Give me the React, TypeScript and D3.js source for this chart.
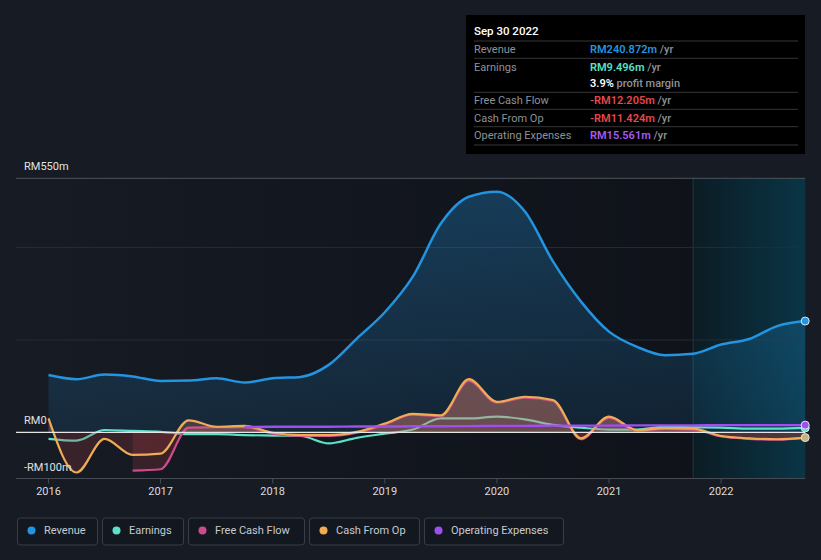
import * as d3 from 'd3';

// quarterly points, 2016 Q1 .. 2022 Q3 (trailing twelve months, RM m)
const quarters = d3.range(0, 28).map((i) => 2016 + i * 0.25);
const revenue = [124, 115, 125, 121, 111, 112, 117, 108, 117, 120, 146, 203, 260, 337, 452, 510, 521, 478, 370, 283, 218, 185, 167, 170, 190, 202, 230, 240.872];
const earnings = [-14, -18, 5, 3, 1, -4, -4, -6, -7, -8, -24, -12, -3, 6, 30, 30, 34, 28, 16, 10, 6, 6, 12, 11, 10, 8, 8, 9.496];
const cashFromOp = [30, -87, -14, -49, -46, 26, 12, 14, -1, -6, -6, 1, 19, 40, 37, 115, 66, 77, 70, -13, 34, 5, 9, 8, -8, -13, -15, -11.424];
// free cash flow starts at 2016 Q4
const freeCashFlow = [-83, -80, 10, 11, 11, -3, -8, -8, -1, 17, 38, 35, 112, 64, 75, 68, -15, 32, 3, 7, 6, -9, -14, -16, -12.205];
// operating expenses start at 2017 Q4
const opex = [11.5, 12, 12, 12, 12.5, 12.5, 13, 13, 13.5, 14, 14, 14.5, 14.5, 14.5, 15, 15, 15, 15.5, 15.5, 15.5, 15.561];

const years = [2016, 2017, 2018, 2019, 2020, 2021, 2022];
const yTicks = [550, 0, -100];
const gridValues = [200, 400];
const yTickLabels = ['RM550m', 'RM0', '-RM100m'];

const seriesNames = ['Revenue', 'Earnings', 'Free Cash Flow', 'Cash From Op', 'Operating Expenses'];
const seriesColors = ['#2394df', '#5ce0c8', '#cf4a8c', '#efac55', '#a04ef0'];

const tooltipLabels = ['Revenue', 'Earnings', '', 'Free Cash Flow', 'Cash From Op', 'Operating Expenses'];
const tooltipValues = ['RM240.872m', 'RM9.496m', '3.9%', '-RM12.205m', '-RM11.424m', 'RM15.561m'];
const tooltipColors = ['#2394df', '#5ce0c8', '#ffffff', '#e8474a', '#e8474a', '#a55cf0'];

const W = 821;
const H = 560;
const BG = '#161b24';
const FONT = 'Roboto, "Noto Sans", sans-serif';

type Pt = [number, number];

export default function App() {
  const x = d3.scaleLinear().domain([2016, 2022.75]).range([48.5, 805.2]);
  const y = d3.scaleLinear().domain([-100, 550]).range([478.5, 178.3]);
  const plotLeft = 16;
  const plotRight = x(2022.75);
  const y0 = y(0);
  const forecastX = x(2021.75);

  const pts = (vals: number[], start: number): Pt[] => vals.map((v, i) => [quarters[start + i], v]);
  const line = d3
    .line<Pt>()
    .x((d) => x(d[0]))
    .y((d) => y(d[1]))
    .curve(d3.curveMonotoneX);
  const area = d3
    .area<Pt>()
    .x((d) => x(d[0]))
    .y0(y0)
    .y1((d) => y(d[1]))
    .curve(d3.curveMonotoneX);

  const revPts = pts(revenue, 0);
  const earnPts = pts(earnings, 0);
  const cfoPts = pts(cashFromOp, 0);
  const fcfPts = pts(freeCashFlow, 3);
  const opexPts = pts(opex, 7);

  const legendWidths = [80, 81, 116, 110, 139];
  let lx = 17;
  const legendX = legendWidths.map((w) => {
    const cur = lx;
    lx += w + 5;
    return cur;
  });

  const rowBaselines = [52.5, 70.5, 87, 104, 121.5, 139];
  const sepLines = [41, 58.3, 92.3, 109.3, 126.7, 145];

  const endDots: [Pt, string][] = [
    [revPts[revPts.length - 1], seriesColors[0]],
    [earnPts[earnPts.length - 1], seriesColors[1]],
    [cfoPts[cfoPts.length - 1], '#c9b478'],
    [opexPts[opexPts.length - 1], seriesColors[4]],
  ];

  return (
    <svg
      width={W}
      height={H}
      style={{ position: 'absolute', left: 0, top: 0, display: 'block' }}
      fontFamily={FONT}
    >
      <defs>
        <linearGradient id="plotBg" gradientUnits="userSpaceOnUse" x1={plotLeft} x2={forecastX} y1={0} y2={0}>
          <stop offset="0" stopColor="#161b24" />
          <stop offset="1" stopColor="#0f1219" />
        </linearGradient>
        <linearGradient id="fcBg" gradientUnits="userSpaceOnUse" x1={forecastX} x2={plotRight} y1={0} y2={0}>
          <stop offset="0" stopColor="#0b1c24" />
          <stop offset="1" stopColor="#0a3546" />
        </linearGradient>
        <linearGradient id="revFill" gradientUnits="userSpaceOnUse" x1={0} x2={0} y1={y(550)} y2={y0}>
          <stop offset="0" stopColor="#2394df" stopOpacity={0.32} />
          <stop offset="1" stopColor="#2394df" stopOpacity={0.12} />
        </linearGradient>
        <clipPath id="above">
          <rect x={0} y={0} width={W} height={y0} />
        </clipPath>
        <clipPath id="below">
          <rect x={0} y={y0} width={W} height={H - y0} />
        </clipPath>
      </defs>

      <rect width={W} height={H} fill={BG} />
      <rect x={plotLeft} y={y(550)} width={forecastX - plotLeft} height={y(-100) - y(550)} fill="url(#plotBg)" />
      <rect x={forecastX} y={y(550)} width={plotRight - forecastX} height={y(-100) - y(550)} fill="url(#fcBg)" />
      <line x1={forecastX} x2={forecastX} y1={y(550)} y2={y(-100)} stroke="#1f3a44" strokeWidth={1} />

      {gridValues.map((g) => (
        <line key={g} x1={plotLeft} x2={plotRight} y1={y(g)} y2={y(g)} stroke="#272c35" strokeWidth={1} />
      ))}
      <line x1={plotLeft} x2={plotRight} y1={y(550)} y2={y(550)} stroke="#4e545c" strokeWidth={1} />
      <line x1={plotLeft} x2={plotRight} y1={y(-100)} y2={y(-100)} stroke="#464b53" strokeWidth={1} />
      {years.map((yr) => (
        <line key={yr} x1={x(yr)} x2={x(yr)} y1={y(-100)} y2={y(-100) + 5} stroke="#464b53" strokeWidth={1} />
      ))}

      {/* revenue */}
      <path d={area(revPts) ?? undefined} fill="url(#revFill)" />
      <path d={line(revPts) ?? undefined} fill="none" stroke={seriesColors[0]} strokeWidth={2.5} />

      {/* earnings */}
      <path d={line(earnPts) ?? undefined} fill="none" stroke={seriesColors[1]} strokeWidth={2.2} />

      {/* free cash flow */}
      <path d={area(fcfPts) ?? undefined} fill="#d88070" fillOpacity={0.25} clipPath="url(#above)" />
      <path d={area(fcfPts) ?? undefined} fill="#a83a40" fillOpacity={0.25} clipPath="url(#below)" />
      <path d={line(fcfPts) ?? undefined} fill="none" stroke={seriesColors[2]} strokeWidth={2.2} />

      {/* cash from op */}
      <path d={area(cfoPts) ?? undefined} fill="#d88070" fillOpacity={0.25} clipPath="url(#above)" />
      <path d={area(cfoPts) ?? undefined} fill="#a83a40" fillOpacity={0.25} clipPath="url(#below)" />
      <path d={line(cfoPts) ?? undefined} fill="none" stroke={seriesColors[3]} strokeWidth={2.2} />

      {/* zero line */}
      <line x1={plotLeft} x2={plotRight} y1={y0} y2={y0} stroke="#e6e6e6" strokeWidth={1.2} />

      {/* operating expenses */}
      <path d={line(opexPts) ?? undefined} fill="none" stroke={seriesColors[4]} strokeWidth={2.4} />

      {endDots.map(([p, c], i) => (
        <circle key={i} cx={x(p[0])} cy={y(p[1])} r={4} fill={c} stroke="#dfe6ee" strokeWidth={1} />
      ))}

      {yTicks.map((t, i) => (
        <text key={t} x={24} y={y(t) - 8} fontSize={11} fill="#e2e2e2">
          {yTickLabels[i]}
        </text>
      ))}
      {years.map((yr) => (
        <text key={yr} x={x(yr)} y={495} fontSize={11} fill="#dcdcdc" textAnchor="middle">
          {yr}
        </text>
      ))}

      {/* tooltip */}
      <rect x={466} y={15} width={339} height={139} fill="#000" />
      <text x={474} y={35} fontSize={11.5} fill="#ffffff" fontWeight={500}>
        Sep 30 2022
      </text>
      {sepLines.map((sy) => (
        <line key={sy} x1={474} x2={798} y1={sy} y2={sy} stroke="#363636" strokeWidth={1} />
      ))}
      {tooltipLabels.map((lab, i) => (
        <g key={i}>
          <text x={474} y={rowBaselines[i]} fontSize={11} fill="#8e9298">
            {lab}
          </text>
          <text x={590} y={rowBaselines[i]} fontSize={11} fontWeight={600} fill={tooltipColors[i]}>
            {tooltipValues[i]}
            <tspan fill="#8e9298" fontWeight={500}>{i === 2 ? ' profit margin' : ' /yr'}</tspan>
          </text>
        </g>
      ))}

      {/* legend */}
      {seriesNames.map((name, i) => (
        <g key={name} transform={`translate(${legendX[i]},517.5)`}>
          <rect x={0.5} y={0.5} width={legendWidths[i]} height={27} rx={3} fill="#131820" stroke="#383d47" />
          <circle cx={14.5} cy={13} r={4} fill={seriesColors[i]} />
          <text x={27} y={16.8} fontSize={11} fill="#c6cad0">
            {name}
          </text>
        </g>
      ))}
    </svg>
  );
}
